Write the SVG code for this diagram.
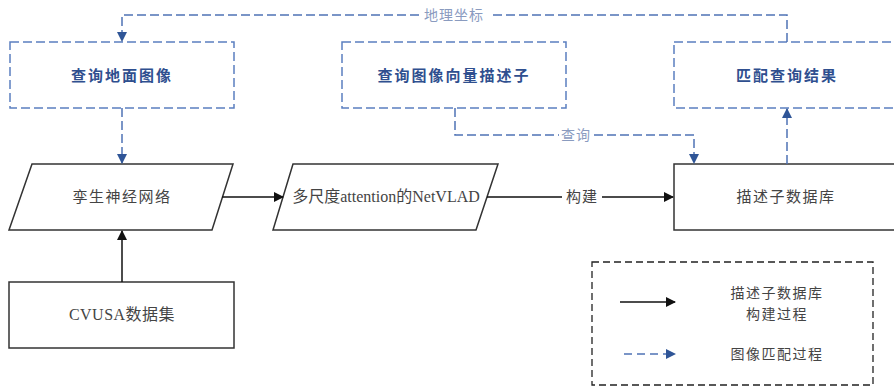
<svg xmlns="http://www.w3.org/2000/svg" width="894" height="389" viewBox="0 0 894 389">
<defs>
<style>
.dbox{fill:#fff;stroke:#5b7fc0;stroke-width:1.5;stroke-dasharray:9,4}
.sbox{fill:#fff;stroke:#333;stroke-width:1.5}
.leg{fill:none;stroke:#222;stroke-width:1.3;stroke-dasharray:7,4}
.bt{font-family:"Liberation Serif","Noto Sans CJK SC",serif;font-size:15px;font-weight:bold;fill:#2f4f8f;text-anchor:middle;letter-spacing:2px}
.nt{font-family:"Liberation Serif","Noto Sans CJK SC",serif;font-size:15px;fill:#444;text-anchor:middle;letter-spacing:1.5px}
.lt{font-family:"Liberation Serif","Noto Sans CJK SC",serif;font-size:14px;fill:#8a9bbf;text-anchor:middle;letter-spacing:1px}
.sl{fill:none;stroke:#111;stroke-width:1.5}
.dl{fill:none;stroke:#4f73b5;stroke-width:1.5;stroke-dasharray:9,4}
</style>
<marker id="ab" markerWidth="10" markerHeight="10" refX="9" refY="5" orient="auto" markerUnits="userSpaceOnUse"><path d="M0,0 L10,5 L0,10 Z" fill="#111"/></marker>
<marker id="au" markerWidth="10" markerHeight="10" refX="9" refY="5" orient="auto" markerUnits="userSpaceOnUse"><path d="M0,0 L10,5 L0,10 Z" fill="#2f5597"/></marker>
</defs>
<g id="n-query-ground"><rect class="dbox" x="10" y="42" width="224" height="66"/><text class="bt" x="122" y="81">查询地面图像</text></g>
<g id="n-query-desc"><rect class="dbox" x="342" y="42" width="224" height="66"/><text class="bt" x="454" y="81">查询图像向量描述子</text></g>
<g id="n-match"><rect class="dbox" x="674" y="42" width="226" height="66"/><text class="bt" x="787" y="81">匹配查询结果</text></g>
<g id="n-siamese"><polygon class="sbox" points="32,164 233,164 212,230 9,230"/><text class="nt" x="122" y="202">孪生神经网络</text></g>
<g id="n-netvlad"><polygon class="sbox" points="293,164 498,164 476,230 273,230"/><text class="nt" x="386" y="202" style="letter-spacing:0;font-size:16px">多尺度attention的NetVLAD</text></g>
<g id="n-db"><rect class="sbox" x="674" y="164" width="226" height="66"/><text class="nt" x="786" y="202">描述子数据库</text></g>
<g id="n-cvusa"><rect class="sbox" x="9" y="282" width="225" height="66"/><text class="nt" x="122" y="320" style="letter-spacing:0.5px;font-size:16px">CVUSA数据集</text></g>
<g id="connectors">
<path class="sl" d="M122,282 V231" marker-end="url(#ab)"/>
<path class="sl" d="M222,197 H283" marker-end="url(#ab)"/>
<path class="sl" d="M487,197 H562 M602,197 H673" marker-end="url(#ab)"/>
<text class="nt" x="582" y="202" style="letter-spacing:1px">构建</text>
<path class="dl" d="M122,108 V163" marker-end="url(#au)"/>
<path class="dl" d="M787,164 V109" marker-end="url(#au)"/>
<path class="dl" d="M455,108 V135 H559 M594,135 H694 V163" marker-end="url(#au)"/>
<text class="lt" x="576" y="140">查询</text>
<path class="dl" d="M787,42 V15 H489 M419,15 H122 V41" marker-end="url(#au)"/>
<text class="lt" x="454" y="20">地理坐标</text>
</g>
<g id="legend">
<rect class="leg" x="592" y="262" width="281" height="123"/>
<path class="sl" d="M620,302 H675" marker-end="url(#ab)"/>
<text class="nt" x="777" y="298" style="font-size:14px">描述子数据库</text>
<text class="nt" x="777" y="319" style="font-size:14px">构建过程</text>
<path class="dl" d="M624,354 H675" style="stroke-dasharray:8,5" marker-end="url(#au)"/>
<text class="nt" x="777" y="359" style="font-size:14px">图像匹配过程</text>
</g>
</svg>
